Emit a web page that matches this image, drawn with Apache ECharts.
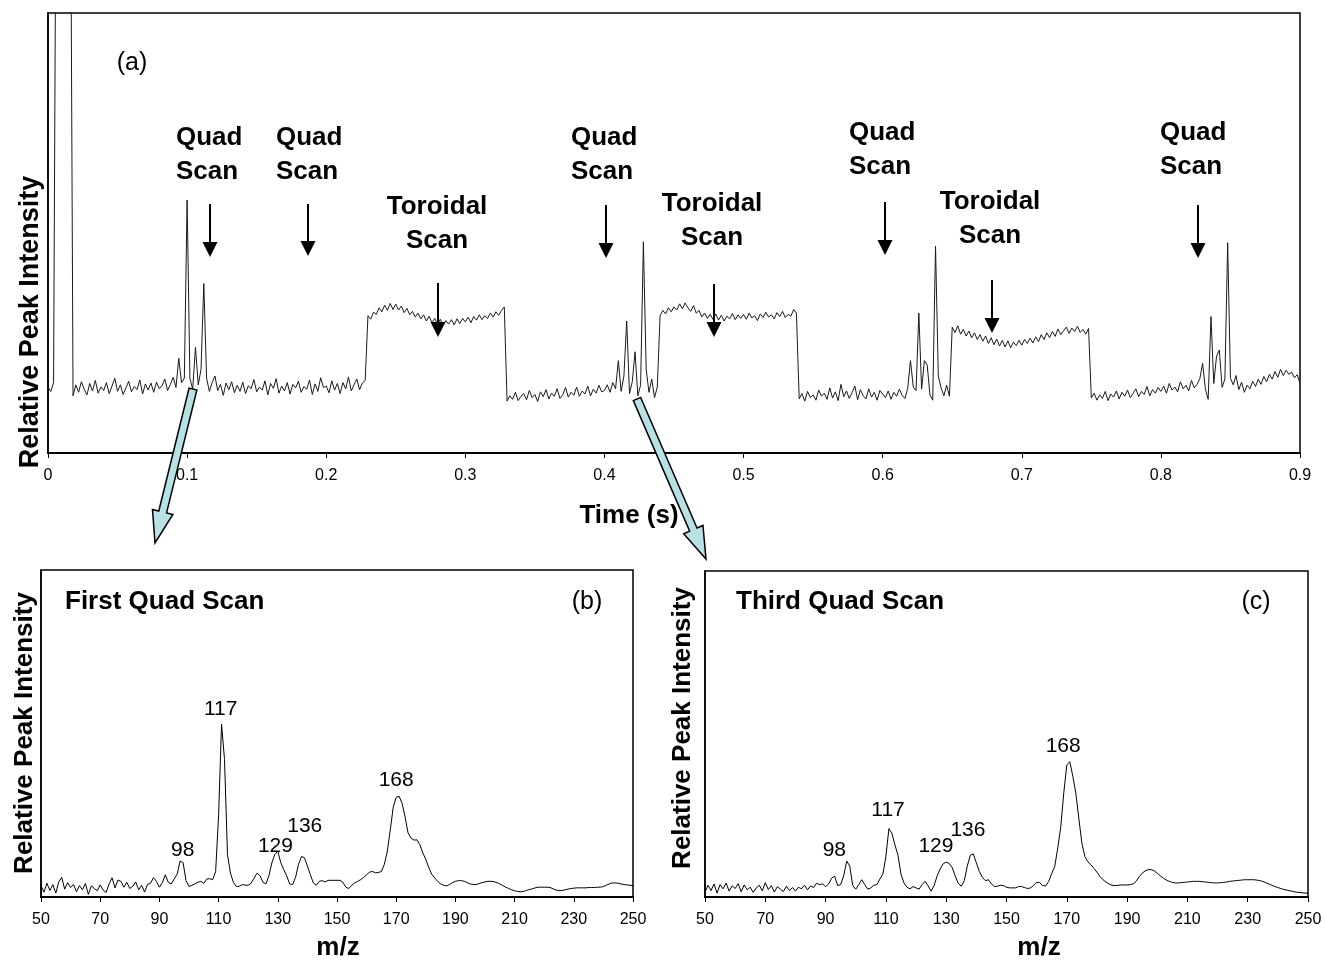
<!DOCTYPE html>
<html>
<head>
<meta charset="utf-8">
<title>Quad / Toroidal scan</title>
<script src="https://cdn.jsdelivr.net/npm/echarts@6/dist/echarts.min.js"></script>
<style>
  html, body { margin: 0; padding: 0; background: #fff; }
  #chart { width: 1325px; height: 962px; }
</style>
</head>
<body>
<div id="chart"></div>
<script>
// (a) total ion signal, one value every 0.002 s from 0 to 0.9 s (relative units, 0-100 = plot height)
var timeStep = 0.002;
var intensityA = [
  15, 14, 16, 150, 150, 150, 150, 150, 150, 13,
  15.5, 13.8, 16.2, 14.5, 13.2, 15.8, 14.1, 16.5, 13.6, 15.0,
  14.2, 16.0, 13.5, 15.2, 17.0, 14.0, 15.5, 13.3, 14.8, 16.3,
  13.9, 15.1, 14.4, 16.6, 13.4, 15.7, 14.3, 15.9, 13.8, 16.1,
  14.6, 15.3, 16.8, 14.2, 15.6, 17.2, 14.9, 21.5, 16.0, 17.0,
  // 0.1 s
  57.5, 17.0, 14.5, 24.0, 15.5, 19.0, 38.5, 17.0, 14.0, 16.0,
  17.5, 14.2, 15.6, 13.1, 15.9, 14.4, 16.2, 13.7, 15.4, 14.0,
  16.1, 13.5, 15.3, 14.6, 16.7, 13.9, 15.0, 14.3, 16.4, 13.2,
  15.8, 14.7, 16.9, 13.6, 15.2, 14.1, 16.0, 13.4, 15.6, 14.8,
  16.3, 13.8, 15.1, 14.5, 16.6, 13.3, 15.7, 14.0, 17.1, 14.9,
  // 0.2 s
  15.2, 13.7, 16.4, 14.3, 15.8, 13.5, 16.0, 14.6, 17.3, 14.1,
  15.5, 16.8, 14.4, 15.9, 16.5, 31.2, 30.4, 32.0, 31.5, 33.0,
  32.1, 33.6, 32.4, 34.0, 32.6, 33.8, 32.5, 33.4, 31.9, 32.9,
  31.4, 32.2, 30.9, 31.8, 30.5, 31.4, 30.0, 31.1, 29.6, 30.6,
  29.2, 30.4, 29.0, 30.1, 29.3, 30.3, 29.1, 30.5, 29.4, 30.6,
  // 0.3 s
  29.8, 30.9, 29.6, 31.0, 30.2, 31.4, 30.3, 31.2, 30.6, 31.8,
  30.9, 32.1, 31.3, 32.4, 33.2, 11.8, 13.0, 12.2, 13.8, 11.9,
  12.9, 13.5, 12.1, 14.2, 12.6, 13.3, 11.7, 13.9, 12.8, 14.4,
  12.3, 13.6, 12.9, 14.6, 12.4, 13.2, 14.9, 12.7, 13.8, 13.1,
  15.0, 12.9, 14.1, 13.4, 15.2, 13.0, 14.5, 13.6, 15.4, 13.9,
  // 0.4 s
  14.2, 15.5, 13.8, 16.0, 14.6, 21.0, 14.0, 17.5, 30.0, 13.5,
  16.2, 23.0, 13.0, 15.5, 48.0, 19.0, 13.8, 16.8, 12.6, 15.0,
  31.2, 32.4, 31.6, 33.0, 32.1, 33.2, 32.5, 33.9, 32.8, 34.1,
  33.0, 32.2, 33.5, 31.8, 32.4, 30.9, 31.8, 30.6, 31.5, 30.4,
  31.6, 30.2, 31.3, 30.0, 31.1, 30.5, 31.7, 30.3, 31.4, 30.6,
  // 0.5 s
  31.5, 30.4, 31.8, 30.7, 31.2, 30.1, 31.6, 30.8, 32.0, 30.9,
  31.4, 30.5, 31.9, 31.0, 32.2, 30.8, 31.5, 31.1, 32.6, 31.8,
  12.3, 13.5, 11.8, 14.0, 12.6, 13.2, 12.0, 14.3, 12.9, 13.6,
  12.2, 14.8, 12.5, 13.9, 11.9, 15.6, 12.8, 14.1, 12.4, 13.7,
  15.2, 12.1, 14.4, 13.0, 12.3, 14.6, 12.7, 13.8, 12.0, 14.2,
  // 0.6 s
  13.4, 12.6, 14.1, 12.2, 13.8, 12.9, 14.5, 13.1, 12.4, 14.7,
  21.0, 15.0, 14.2, 31.8, 14.5, 21.0, 20.0, 13.2, 12.0, 47.0,
  17.5, 14.8, 13.0, 15.4, 12.9, 28.6, 27.4, 28.9, 27.0, 28.1,
  26.6, 27.7, 26.2, 27.3, 25.8, 26.9, 25.4, 26.6, 24.9, 26.2,
  24.6, 25.9, 24.3, 25.6, 24.1, 25.5, 23.9, 25.2, 24.4, 25.6,
  // 0.7 s
  24.5, 25.8, 24.9, 26.1, 25.0, 26.4, 25.3, 26.9, 25.8, 27.3,
  26.2, 27.6, 26.5, 28.2, 26.9, 27.8, 28.6, 27.2, 28.4, 27.6,
  28.8, 27.4, 28.1, 27.0, 28.3, 12.5, 13.6, 12.0, 13.2, 12.4,
  14.0, 11.9, 13.4, 12.7, 14.1, 12.3, 13.8, 12.9, 14.3, 12.6,
  13.5, 14.6, 12.8, 14.0, 13.3, 15.1, 13.0, 14.4, 13.6, 14.9,
  // 0.8 s
  14.0, 15.2, 13.6, 15.8, 14.3, 15.0, 13.9, 16.2, 14.6, 15.4,
  14.1, 16.5, 14.8, 15.6, 16.9, 20.4, 14.5, 12.2, 31.0, 15.8,
  22.0, 23.4, 14.9, 16.8, 47.8, 17.0, 15.5, 17.6, 14.4, 16.1,
  13.8, 15.4, 14.6, 16.3, 15.1, 16.8, 15.6, 17.4, 16.2, 17.9,
  16.8, 18.5, 17.2, 19.0, 17.6, 18.8, 17.9, 18.4, 17.1, 17.8,
  15.8
];

// (b) first quad scan, one value per m/z from 50 to 250
var mzStart = 50;
var intensityB = [
  3.5, 1.5, 4.2, 2.0, 3.8, 1.2, 4.6, 6.0, 2.4, 4.4,
  2.9, 3.8, 1.6, 3.5, 2.2, 4.1, 0.8, 3.4, 2.6, 1.9,
  3.7, 2.1, 1.4, 4.0, 5.9, 2.8, 5.2, 4.8, 3.0, 4.5,
  2.6, 3.3, 4.6, 2.2, 3.6, 1.5, 3.9, 4.2, 5.9, 4.8,
  3.0, 4.4, 6.8, 4.5, 4.0, 5.5, 7.0, 11.0, 10.5, 5.0,
  3.2, 3.6, 4.0, 4.5, 4.8, 4.2, 5.5, 5.6, 5.3, 7.8,
  25.0, 52.9, 42.0, 13.0, 7.3, 4.5, 3.2, 3.3, 3.8, 3.6,
  3.6, 4.2, 5.8, 7.3, 6.5, 4.5, 4.0, 6.5, 10.5, 13.0,
  14.0, 10.5, 8.4, 6.5, 4.0, 3.8, 6.0, 10.0, 12.4, 12.0,
  9.5, 6.8, 4.3, 3.6, 4.8, 5.0, 4.6, 5.1, 5.1, 5.1,
  5.1, 5.1, 4.5, 3.0, 2.6, 3.6, 4.3, 4.8, 5.3, 6.0,
  6.8, 7.6, 7.8, 7.4, 7.5, 7.8, 10.0, 14.0, 20.5, 27.5,
  30.5, 30.8, 28.6, 24.5, 19.6, 18.0, 17.4, 17.5, 16.0, 13.5,
  11.5, 9.0, 7.0, 5.8, 4.8, 4.0, 3.6, 3.4, 3.8, 4.4,
  4.8, 5.0, 5.0, 4.8, 4.4, 4.0, 3.8, 3.8, 4.1, 4.4,
  4.6, 4.8, 4.8, 4.7, 4.4, 4.0, 3.5, 3.0, 2.6, 2.2,
  1.9, 1.7, 1.6, 1.7, 2.0, 2.3, 2.5, 2.8, 3.0, 3.0,
  3.0, 3.0, 2.9, 2.5, 2.1, 2.0, 2.0, 2.2, 2.4, 2.6,
  2.7, 2.8, 2.8, 2.8, 2.8, 2.9, 2.9, 2.9, 3.0, 3.0,
  3.2, 3.6, 4.0, 4.3, 4.3, 4.2, 4.0, 3.8, 3.7, 3.6, 3.5
];

// (c) third quad scan, one value per m/z from 50 to 250
var intensityC = [
  1.5, 3.6, 2.0, 4.0, 1.2, 3.8, 2.5, 4.3, 1.8, 3.4,
  2.6, 4.1, 1.6, 3.7, 2.2, 3.0, 1.4, 2.8, 3.6, 1.9,
  4.4, 2.3, 3.5, 1.5, 3.2, 2.4, 1.7, 3.3, 2.0, 2.9,
  1.8, 3.0, 2.5, 3.6, 2.2, 3.4, 2.9, 4.2, 3.8, 4.0,
  3.2, 4.0, 5.8, 6.4, 3.5, 3.8, 6.5, 11.0, 9.5, 3.5,
  2.4, 3.8, 5.3, 3.8, 2.4, 2.8, 3.6, 3.8, 5.5, 7.0,
  12.5, 21.0, 19.5, 16.0, 12.8, 7.0, 4.3, 3.0, 2.5, 3.2,
  2.8, 2.4, 3.8, 4.8, 3.4, 1.8, 3.5, 6.5, 8.6, 10.2,
  10.7, 10.3, 9.0, 6.4, 4.2, 3.3, 5.0, 9.5, 12.8, 13.2,
  10.5, 7.8, 6.0, 5.0, 5.3, 4.0, 3.2, 3.3, 3.6, 3.5,
  3.0, 2.8, 2.8, 2.8, 3.2, 3.2, 2.9, 2.6, 2.8, 3.6,
  4.5, 4.4, 3.5, 3.4, 4.8, 7.2, 9.4, 15.0, 21.6, 32.0,
  40.5, 41.5, 37.0, 31.8, 24.0, 16.5, 12.4, 10.8, 9.9, 8.8,
  7.6, 6.3, 5.3, 4.6, 4.0, 3.6, 3.5, 3.6, 3.7, 3.7,
  3.7, 3.8, 4.0, 4.8, 6.2, 7.3, 8.0, 8.4, 8.4, 8.0,
  7.3, 6.5, 5.8, 5.2, 4.8, 4.5, 4.3, 4.3, 4.4, 4.5,
  4.6, 4.7, 4.8, 4.8, 4.8, 4.7, 4.6, 4.5, 4.4, 4.3,
  4.3, 4.4, 4.5, 4.6, 4.8, 4.9, 5.0, 5.1, 5.2, 5.3,
  5.3, 5.3, 5.3, 5.2, 5.0, 4.8, 4.4, 4.0, 3.6, 3.2,
  2.9, 2.6, 2.3, 2.1, 1.9, 1.7, 1.5, 1.4, 1.3, 1.2, 1.2
];

// nominal masses written over the peaks
var peakNames = ['98', '117', '129', '136', '168'];

var font = 'Liberation Sans, Arial, Helvetica, sans-serif';
var myChart = echarts.init(document.getElementById('chart'), null, { renderer: 'canvas' });

var traceA = intensityA.map(function (v, i) { return [+(i * timeStep).toFixed(3), v]; });
var traceB = intensityB.map(function (v, i) { return [mzStart + i, v]; });
var traceC = intensityC.map(function (v, i) { return [mzStart + i, v]; });

// where the peak names sit (data coords of the text centre)
var labelSpotB = [[97.9, 14.4], [110.7, 57.4], [129.2, 15.6], [139.1, 21.7], [170.0, 35.8]];
var labelSpotC = [[92.9, 14.4], [110.7, 26.7], [126.6, 15.6], [137.2, 20.5], [168.8, 46.2]];

function peakMarks(spots) {
  return {
    symbol: 'circle',
    symbolSize: 1,
    itemStyle: { color: 'rgba(0,0,0,0)' },
    label: { show: true, position: 'inside', formatter: '{b}', color: '#000', fontSize: 21, fontFamily: font },
    data: spots.map(function (c, i) { return { name: peakNames[i], coord: c }; })
  };
}

function gridBox(left, top, width, height) {
  return {
    left: left, top: top, width: width, height: height,
    show: true, borderColor: '#000', borderWidth: 1.5,
    backgroundColor: 'rgba(0,0,0,0)', outerBoundsMode: 'none', containLabel: false
  };
}

function xAx(gi, min, max, interval, fmt) {
  return {
    type: 'value', gridIndex: gi, min: min, max: max, interval: interval,
    axisLine: { show: true, onZero: false, lineStyle: { color: '#000', width: 2 } },
    axisTick: { show: true, inside: false, length: 5, lineStyle: { color: '#000', width: 1 } },
    axisLabel: { color: '#000', fontSize: 16, fontFamily: font, margin: 15, formatter: fmt },
    splitLine: { show: false }
  };
}

function yAx(gi) {
  return {
    type: 'value', gridIndex: gi, min: 0, max: 100,
    axisLine: { show: true, lineStyle: { color: '#000', width: 1.5 } },
    axisTick: { show: false }, axisLabel: { show: false }, splitLine: { show: false }
  };
}

// black "scan" arrows: [x, yStart, yTip]
var scanArrows = [[210, 204, 257], [308, 204, 256], [438, 283, 337], [606, 205, 258],
                  [714, 284, 337], [885, 202, 255], [992, 280, 333], [1198, 205, 258]];

function blackArrow(a) {
  return {
    type: 'group',
    children: [
      { type: 'line', shape: { x1: a[0], y1: a[1], x2: a[0], y2: a[2] - 12 }, style: { stroke: '#000', lineWidth: 2 } },
      { type: 'polygon', shape: { points: [[a[0] - 7.5, a[2] - 15], [a[0] + 7.5, a[2] - 15], [a[0], a[2]]] }, style: { fill: '#000' } }
    ]
  };
}

// big light blue arrows pointing to the zoomed spectra
function fatArrow(x1, y1, x2, y2) {
  var sw = 8, hw = 21, hl = 32;
  var dx = x2 - x1, dy = y2 - y1, L = Math.sqrt(dx * dx + dy * dy);
  var ux = dx / L, uy = dy / L, px = -uy, py = ux;
  var bx = x2 - ux * hl, by = y2 - uy * hl;
  return {
    type: 'polygon', z: 100,
    shape: { points: [
      [x1 + px * sw / 2, y1 + py * sw / 2], [bx + px * sw / 2, by + py * sw / 2],
      [bx + px * hw / 2, by + py * hw / 2], [x2, y2],
      [bx - px * hw / 2, by - py * hw / 2], [bx - px * sw / 2, by - py * sw / 2],
      [x1 - px * sw / 2, y1 - py * sw / 2]
    ] },
    style: { fill: '#b7e1e4', stroke: '#000', lineWidth: 1.5, lineJoin: 'miter' }
  };
}

function txt(text, x, y, size, weight, align, extra) {
  var el = {
    type: 'text', x: x, y: y, z: 50,
    style: { text: text, fill: '#000', fontSize: size, fontWeight: weight, fontFamily: font,
             align: align || 'center', verticalAlign: 'middle', lineHeight: 34 }
  };
  if (extra) { for (var k in extra) el[k] = extra[k]; }
  return el;
}

function note(text, x, yTop, align) {
  var el = txt(text, x, yTop, 26, 'bold', align);
  el.style.verticalAlign = 'top';
  return el;
}

var graphics = [
  txt('(a)', 132, 63, 25, 'normal'),
  txt('Relative Peak Intensity', 31, 322, 27, 'bold', 'center', { rotation: Math.PI / 2 }),
  txt('Time (s)', 629, 516, 26, 'bold'),
  note('Quad\nScan', 176, 121, 'left'),
  note('Quad\nScan', 276, 121, 'left'),
  note('Toroidal\nScan', 437, 190, 'center'),
  note('Quad\nScan', 571, 121, 'left'),
  note('Toroidal\nScan', 712, 187, 'center'),
  note('Quad\nScan', 849, 116, 'left'),
  note('Toroidal\nScan', 990, 185, 'center'),
  note('Quad\nScan', 1160, 116, 'left'),

  txt('Relative Peak Intensity', 25, 733, 26, 'bold', 'center', { rotation: Math.PI / 2 }),
  txt('First Quad Scan', 65, 602, 26, 'bold', 'left'),
  txt('(b)', 587, 602, 25, 'normal'),
  txt('m/z', 338, 948, 26, 'bold'),

  txt('Relative Peak Intensity', 683, 728, 26, 'bold', 'center', { rotation: Math.PI / 2 }),
  txt('Third Quad Scan', 736, 602, 26, 'bold', 'left'),
  txt('(c)', 1256, 602, 25, 'normal'),
  txt('m/z', 1039, 948, 26, 'bold'),

  fatArrow(193, 389, 155, 543),
  fatArrow(637, 399, 706, 559)
].concat(scanArrows.map(blackArrow));

var option = {
  backgroundColor: '#fff',
  animation: false,
  grid: [
    gridBox(48, 13, 1252, 440),
    gridBox(41, 570, 592, 327),
    gridBox(705, 571, 603, 326)
  ],
  xAxis: [
    xAx(0, 0, 0.9, 0.1, function (v) { return v === 0 ? '0' : v.toFixed(1); }),
    xAx(1, 50, 250, 20),
    xAx(2, 50, 250, 20)
  ],
  yAxis: [yAx(0), yAx(1), yAx(2)],
  series: [
    {
      name: 'scan', type: 'line', xAxisIndex: 0, yAxisIndex: 0, data: traceA,
      showSymbol: false, clip: true, lineStyle: { color: '#1a1a1a', width: 1 }
    },
    {
      name: 'first quad', type: 'line', xAxisIndex: 1, yAxisIndex: 1, data: traceB,
      showSymbol: false, lineStyle: { color: '#000', width: 1 }, markPoint: peakMarks(labelSpotB)
    },
    {
      name: 'third quad', type: 'line', xAxisIndex: 2, yAxisIndex: 2, data: traceC,
      showSymbol: false, lineStyle: { color: '#000', width: 1 }, markPoint: peakMarks(labelSpotC)
    }
  ],
  graphic: graphics
};

myChart.setOption(option);
</script>
</body>
</html>
